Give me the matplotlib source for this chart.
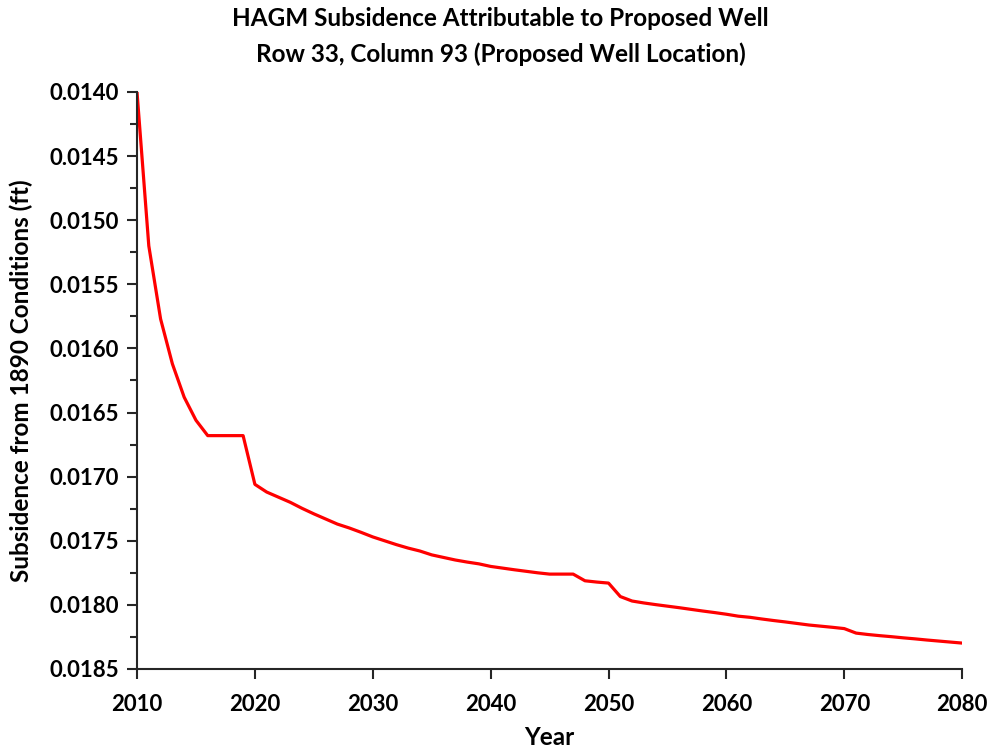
import numpy as np
import matplotlib.pyplot as plt
from matplotlib.ticker import MultipleLocator, FormatStrFormatter

plt.rcParams['font.family'] = ['Lato', 'DejaVu Sans']
plt.rcParams['font.weight'] = 'bold'

years = np.arange(2010, 2081)

# subsidence (ft) per year, 2010-2080
subsidence = [
    0.01400, 0.01520, 0.01577, 0.01612, 0.01638, 0.01656, 0.01668, 0.01668, 0.01668, 0.01668,
    0.01706, 0.01712, 0.01716, 0.01720, 0.017247, 0.01729, 0.01733, 0.01737, 0.01740, 0.017434,
    0.01747, 0.01750, 0.01753, 0.017557, 0.01758, 0.01761, 0.01763, 0.01765, 0.017666, 0.01768,
    0.01770, 0.017713, 0.017726, 0.017738, 0.01775, 0.01776, 0.01776, 0.01776, 0.017812, 0.017822,
    0.01783, 0.017935, 0.01797, 0.017985, 0.017998, 0.01801, 0.018022, 0.018035, 0.018048, 0.01806,
    0.018073, 0.018088, 0.018097, 0.01811, 0.018122, 0.018133, 0.018145, 0.018157, 0.018166, 0.018175,
    0.018185, 0.01822, 0.018231, 0.01824, 0.018248, 0.018257, 0.018265, 0.018274, 0.018282, 0.01829,
    0.018298,
]

fig = plt.figure(figsize=(9.95, 7.51), dpi=100)
ax = fig.add_axes([0.1377, 0.1092, 0.8293, 0.7683])

ax.plot(years, subsidence, color='#ff0000', lw=2.3)

ax.set_xlim(2010, 2080)
ax.set_ylim(0.0185, 0.0140)
ax.xaxis.set_major_locator(MultipleLocator(10))
ax.yaxis.set_major_locator(MultipleLocator(0.0005))
ax.yaxis.set_minor_locator(MultipleLocator(0.00025))
ax.yaxis.set_major_formatter(FormatStrFormatter('%.4f'))

for s in ['top', 'right']:
    ax.spines[s].set_visible(False)
for s in ['left', 'bottom']:
    ax.spines[s].set_linewidth(1.5)
    ax.spines[s].set_color('#262626')

ax.tick_params(axis='both', which='major', direction='out', length=7, width=1.5,
               color='#262626', labelsize=16, pad=6)
ax.tick_params(axis='y', which='minor', direction='out', length=5, width=1.5, color='#262626')
ax.tick_params(axis='x', pad=11)
for lbl in ax.get_xticklabels() + ax.get_yticklabels():
    lbl.set_fontweight('bold')

ax.set_xlabel('Year', fontsize=17.5, fontweight='bold')
ax.set_ylabel('Subsidence from 1890 Conditions (ft)', fontsize=17.5, fontweight='bold')
ax.xaxis.set_label_coords(0.5, -0.1195)
ax.yaxis.set_label_coords(-0.1407, 0.5)
ax.xaxis.label.set_va('center')
ax.yaxis.label.set_va('center')

fig.text(0.503, 0.951, 'HAGM Subsidence Attributable to Proposed Well\nRow 33, Column 93 (Proposed Well Location)',
         ha='center', va='center', fontsize=17.5, fontweight='bold', linespacing=1.65)

fig.savefig('out.png', dpi=100)
